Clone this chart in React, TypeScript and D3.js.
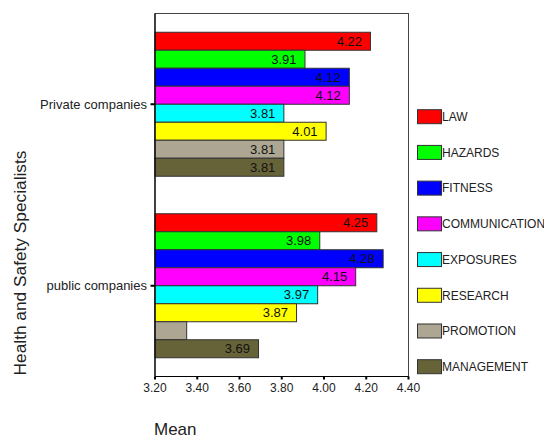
import React from "react";
import * as d3 from "d3";

const categories = ["Private companies", "public companies"];
const series = ["LAW", "HAZARDS", "FITNESS", "COMMUNICATION", "EXPOSURES", "RESEARCH", "PROMOTION", "MANAGEMENT"];
const privateValues = [4.22, 3.91, 4.12, 4.12, 3.81, 4.01, 3.81, 3.81];
const publicValues = [4.25, 3.98, 4.28, 4.15, 3.97, 3.87, 3.35, 3.69];
const seriesColors = ["#ff0000", "#00ff00", "#0000ff", "#ff00ff", "#00ffff", "#ffff00", "#aca692", "#676339"];
const xTicks = [3.2, 3.4, 3.6, 3.8, 4.0, 4.2, 4.4];

const W = 544;
const H = 438;
const left = 155;
const right = 408.5;
const top = 13.5;
const bottom = 376.5;
const FONT = "Arial, 'Liberation Sans', sans-serif";

export default function App() {
  const values = [privateValues, publicValues];
  const x = d3.scaleLinear().domain([3.2, 4.4]).range([left, right]);
  const y0 = d3
    .scaleBand<string>()
    .domain(categories)
    .range([top, bottom])
    .paddingInner(0.2066)
    .paddingOuter(0.1033);
  const y1 = d3.scaleBand<string>().domain(series).range([0, y0.bandwidth()]);
  const legendY = d3.scalePoint<string>().domain(series).range([116.7, 366.7]);

  return (
    <svg
      width={W}
      height={H}
      style={{ position: "absolute", left: 0, top: 0, background: "#fff" }}
      fontFamily={FONT}
    >
      <rect x={left} y={top} width={right - left} height={bottom - top} fill="#fff" stroke="#444" strokeWidth={1} />
      {categories.map((c, ci) => (
        <g key={c} transform={`translate(0,${y0(c)})`}>
          {series.map((s, si) => {
            const v = values[ci][si];
            const by = y1(s)!;
            const bw = x(v) - left;
            return (
              <g key={s}>
                <rect
                  x={left}
                  y={by}
                  width={bw}
                  height={y1.bandwidth()}
                  fill={seriesColors[si]}
                  stroke="#333"
                  strokeWidth={1}
                />
                {bw > 40 && (
                  <text
                    x={x(v) - 8.5}
                    y={by + y1.bandwidth() / 2}
                    dy="0.36em"
                    textAnchor="end"
                    fontSize={13}
                    fill="#111"
                  >
                    {v.toFixed(2)}
                  </text>
                )}
              </g>
            );
          })}
        </g>
      ))}
      {/* left axis */}
      <line x1={left} x2={left} y1={top} y2={bottom} stroke="#000" strokeWidth={1.2} />
      {categories.map((c) => {
        const cy = y0(c)! + y0.bandwidth() / 2;
        return (
          <g key={c}>
            <line x1={left - 4.5} x2={left} y1={cy} y2={cy} stroke="#000" strokeWidth={2} />
            <text x={left - 8} y={cy} dy="0.35em" textAnchor="end" fontSize={13} fill="#222">
              {c}
            </text>
          </g>
        );
      })}
      {/* bottom axis */}
      <line x1={left} x2={right} y1={bottom} y2={bottom} stroke="#000" strokeWidth={1.2} />
      {xTicks.map((t) => (
        <g key={t}>
          <line x1={x(t)} x2={x(t)} y1={bottom} y2={bottom + 3} stroke="#000" strokeWidth={2} />
          <text x={x(t)} y={bottom + 11.5} dy="0.35em" textAnchor="middle" fontSize={12} fill="#222">
            {t.toFixed(2)}
          </text>
        </g>
      ))}
      <text x={154} y={429} dy="0.35em" fontSize={17} fill="#222">
        Mean
      </text>
      <text
        transform={`translate(20,263) rotate(-90)`}
        textAnchor="middle"
        dy="0.35em"
        fontSize={17.3}
        fill="#222"
      >
        Health and Safety Specialists
      </text>
      {/* legend */}
      {series.map((s, si) => {
        const ly = legendY(s)!;
        return (
          <g key={s}>
            <rect x={417.5} y={ly - 7} width={24} height={14} fill={seriesColors[si]} stroke="#333" strokeWidth={1} />
            <text x={442} y={ly} dy="0.36em" fontSize={12} fill="#222">
              {s}
            </text>
          </g>
        );
      })}
    </svg>
  );
}
